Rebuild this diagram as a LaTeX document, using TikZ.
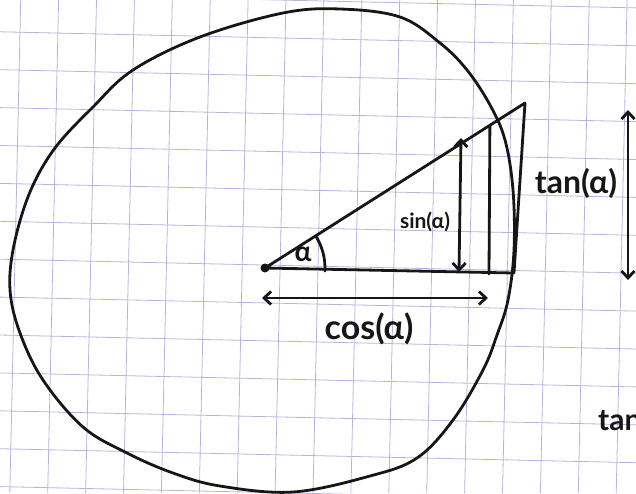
\documentclass[tikz,border=0pt]{standalone}
\usepackage{fontspec}
\setmainfont{Lato}
\usetikzlibrary{arrows.meta,positioning,calc}
\definecolor{gridblue}{RGB}{180,180,224}
\definecolor{ink}{RGB}{22,22,22}

\begin{document}
\begin{tikzpicture}[x=1pt, y=-1pt,
  pen/.style={draw=ink, line width=2.8pt, line cap=round, line join=round},
  gridline/.style={draw=gridblue, line width=0.8pt},
  dbl/.style={pen, {Straight Barb[length=7pt, width=13pt]}-{Straight Barb[length=7pt, width=13pt]}},
  lbl/.style={text=ink, inner sep=0pt, font=\bfseries}]
  \useasboundingbox (0,0) rectangle (636,493);
  \begin{scope}
    \clip (0,0) rectangle (636,493);
    \foreach \k in {0,...,17}
      \draw[gridline] (-17.9+37.9*\k+0.7, 0) -- (-17.9+37.9*\k-10.2, 493);
    \foreach \j in {0,...,13}
      \draw[gridline] (0, -6.1+37.9*\j) -- (636, 7.9+37.9*\j);
  \end{scope}

  \draw[pen] plot[smooth cycle, tension=0.6] coordinates {
    (200,37) (283,13) (340,9) (400,17) (440,43) (467,70) (490,105)
    (505,140) (513,190) (514,250) (508,300) (497,335) (483,370) (453,420)
    (417,458) (370,476) (293,492) (220,486) (173,473) (127,453) (83,427)
    (43,380) (20,333) (10,290) (14,245) (30,192) (55,148) (93,107)
    (133,70)};

  \coordinate (O) at (265,268);
  \coordinate (T) at (525,103);
  \coordinate (B) at (514,273);
  \coordinate (S) at ($(O)!0.865!(T)$);
  \coordinate (Sb) at (489,274);
  \draw[pen] (O) -- (T) -- (B) -- (O);
  \draw[pen] (S) -- (Sb);
  \fill[ink] (O) circle (4.5);
  \draw[pen] ($(O)+(3:60)$) arc[start angle=3, end angle=-32, radius=60];

  \coordinate (sinTop) at (461,138);
  \coordinate (sinBot) at (459,272);
  \coordinate (cosL) at (262,298);
  \coordinate (cosR) at (488,298);
  \coordinate (tanTop) at (628,110);
  \coordinate (tanBot) at (628,280);
  \draw[dbl] (sinBot) -- (sinTop);
  \draw[dbl] (cosL) -- (cosR);
  \draw[dbl] (tanBot) -- (tanTop);

  \node[lbl, font=\bfseries\fontsize{28}{28}\selectfont] (alpha) at (303,254) {α};
  \node[lbl, font=\bfseries\fontsize{21}{21}\selectfont] (sin) at (425,222) {sin(α)};
  \node[lbl, font=\bfseries\fontsize{34}{34}\selectfont] (cos) at (369,329) {cos(α)};
  \node[lbl, font=\bfseries\fontsize{32}{32}\selectfont] (tan) at (576,183) {tan(α)};
  \begin{scope}
    \clip (0,0) rectangle (636,493);
    \node[lbl, anchor=base west, font=\bfseries\fontsize{30}{30}\selectfont] (tan2) at (598,430) {tan};
  \end{scope}
\end{tikzpicture}
\end{document}
